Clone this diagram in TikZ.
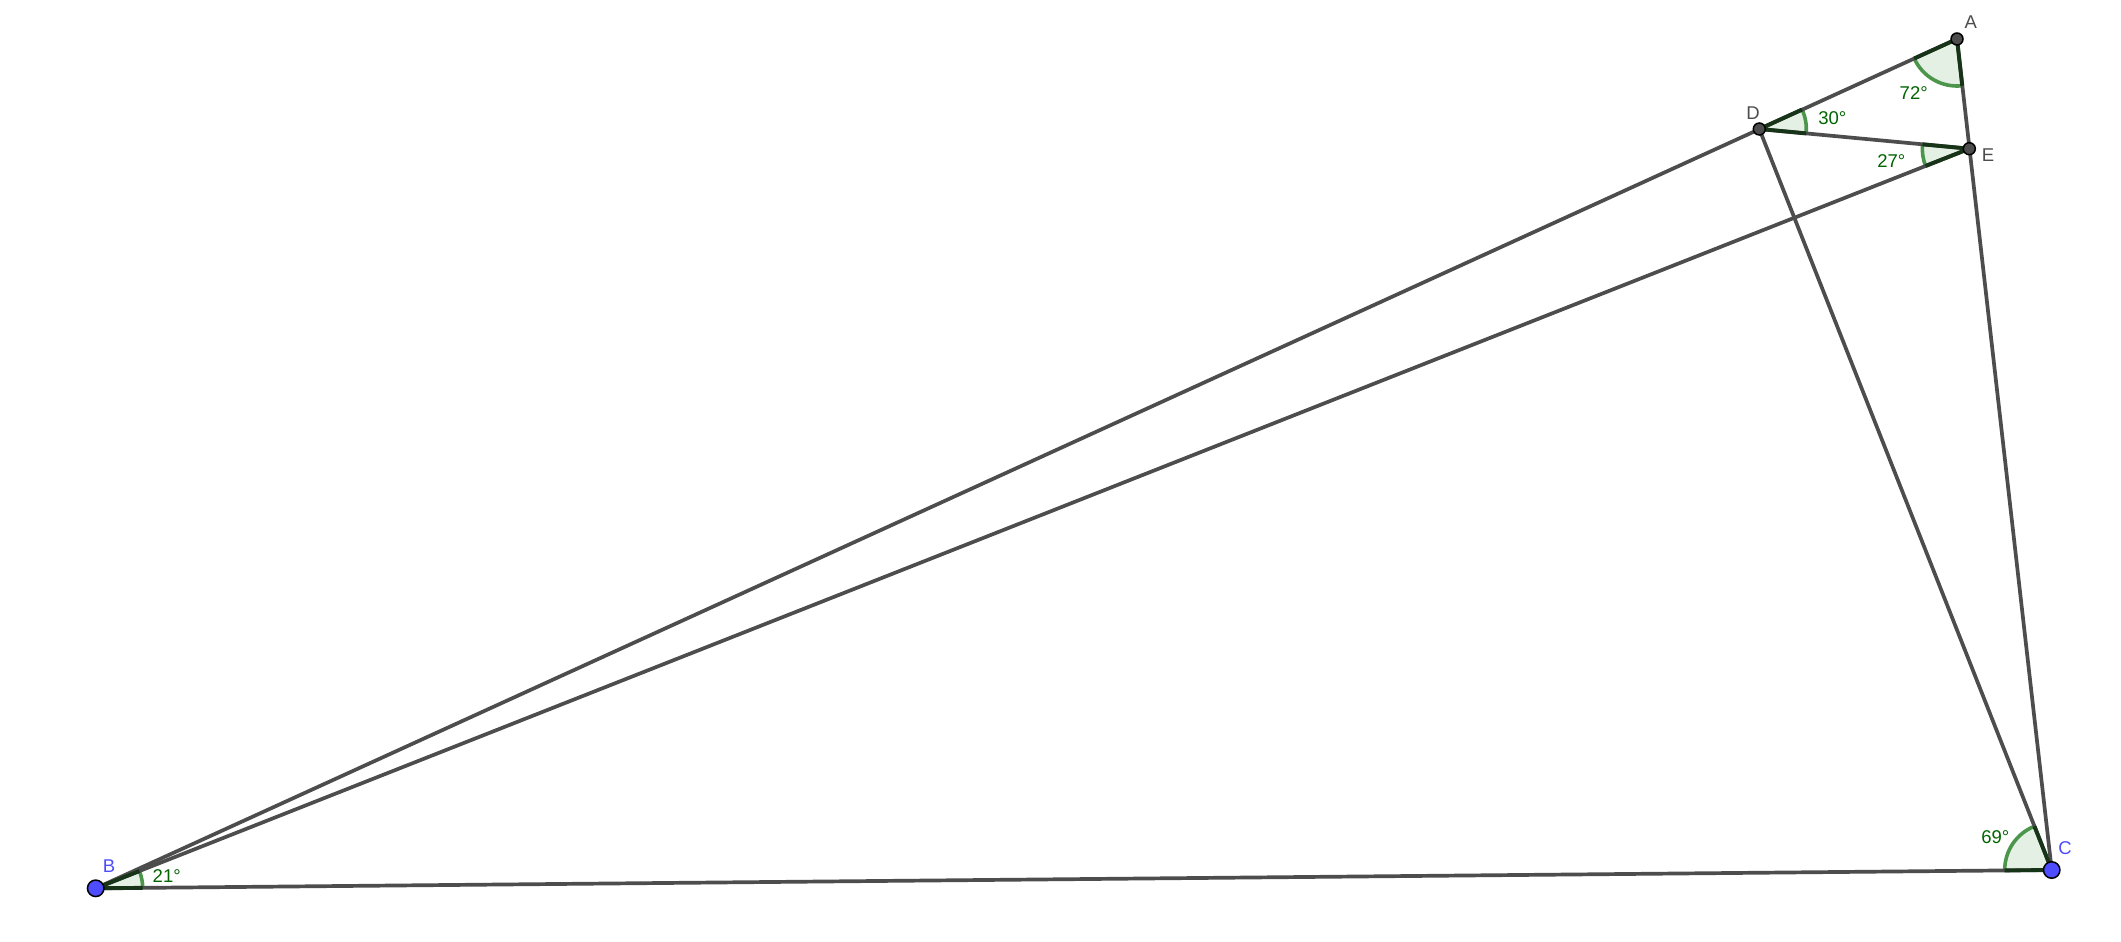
\documentclass[tikz,border=0pt]{standalone}
\usepackage{fontspec}
\setmainfont{Liberation Sans}
\usetikzlibrary{angles,calc}
\definecolor{segCol}{RGB}{77,77,77}
\definecolor{freeCol}{RGB}{77,77,255}
\definecolor{angTxtCol}{RGB}{0,100,0}
\definecolor{angArcCol}{RGB}{76,150,76}
\definecolor{angFillCol}{RGB}{229,240,229}
\definecolor{angEdgeCol}{RGB}{24,52,24}
\tikzset{mySeg/.style={line width=3.7pt,color=segCol}}
\tikzset{myAng/.style={fill=angFillCol, draw=angArcCol, line width=3.6pt, angle radius=47pt}}
\tikzset{myAngEdge/.style={line width=3.9pt,color=angEdgeCol,line join=round}}
\tikzset{myPt/.style={circle, draw=black, line width=1.5pt, fill=segCol, inner sep=0pt, minimum size=12pt}}
\tikzset{myFreePt/.style={myPt, fill=freeCol, minimum size=16.5pt}}
\tikzset{myLbl/.style={font=\fontsize{18.5}{20}\selectfont, inner sep=0pt}}
\newcommand{\angR}{47}

\begin{document}
\begin{tikzpicture}[x=1pt,y=-1pt]
	\useasboundingbox[fill=white](0,0) rectangle (2121,942);
	\coordinate (A) at (1957,39);
	\coordinate (D) at (1759.3,129);
	\coordinate (E) at (1969.3,148.7);
	\coordinate (B) at (95.7,888.3);
	\coordinate (C) at (2051.7,870);

	% angle sectors
	\pic[myAng]{angle = D--A--E};
	\pic[myAng]{angle = E--D--A};
	\pic[myAng]{angle = D--E--B};
	\pic[myAng]{angle = C--B--E};
	\pic[myAng]{angle = D--C--B};

	% segments
	\draw[mySeg](B) -- (A);
	\draw[mySeg](B) -- (E);
	\draw[mySeg](B) -- (C);
	\draw[mySeg](A) -- (C);
	\draw[mySeg](D) -- (E);
	\draw[mySeg](D) -- (C);

	% sector sides
	\draw[myAngEdge]($(A)!\angR pt!(D)$) -- (A) -- ($(A)!\angR pt!(E)$);
	\draw[myAngEdge]($(D)!\angR pt!(E)$) -- (D) -- ($(D)!\angR pt!(A)$);
	\draw[myAngEdge]($(E)!\angR pt!(D)$) -- (E) -- ($(E)!\angR pt!(B)$);
	\draw[myAngEdge]($(B)!\angR pt!(C)$) -- (B) -- ($(B)!\angR pt!(E)$);
	\draw[myAngEdge]($(C)!\angR pt!(D)$) -- (C) -- ($(C)!\angR pt!(B)$);

	\node[myLbl, angTxtCol] (lblA) at (1913.7,93.3) {72°};
	\node[myLbl, angTxtCol] (lblD) at (1832.3,118.3) {30°};
	\node[myLbl, angTxtCol] (lblE) at (1891.3,160.7) {27°};
	\node[myLbl, angTxtCol] (lblB) at (166.7,876.3) {21°};
	\node[myLbl, angTxtCol] (lblC) at (1995.3,837) {69°};

	% points
	\node[myPt] (ptA) at (A) {};
	\node[myPt] (ptD) at (D) {};
	\node[myPt] (ptE) at (E) {};
	\node[myFreePt] (ptB) at (B) {};
	\node[myFreePt] (ptC) at (C) {};
	\node[myLbl, segCol] (nameA) at (1970.7,21.7) {A};
	\node[myLbl, segCol] (nameD) at (1753,112.7) {D};
	\node[myLbl, segCol] (nameE) at (1988,155) {E};
	\node[myLbl, freeCol] (nameB) at (109,865.7) {B};
	\node[myLbl, freeCol] (nameC) at (2065,848.3) {C};
\end{tikzpicture}
\end{document}
